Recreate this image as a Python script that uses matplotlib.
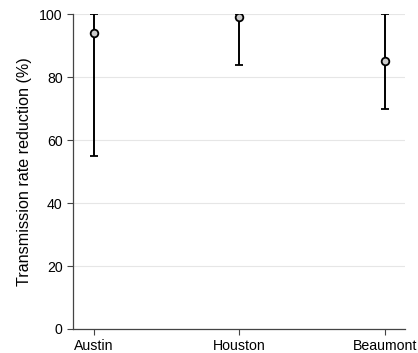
import matplotlib.pyplot as plt

plt.rcParams['font.family'] = ['Liberation Sans', 'DejaVu Sans']

cities = ['Austin', 'Houston', 'Beaumont']
reduction = [94, 99, 85]
lower = [55, 84, 70]
upper = [100, 100, 100]

x = list(range(len(cities)))
yerr = [[r - lo for r, lo in zip(reduction, lower)],
        [up - r for r, up in zip(reduction, upper)]]

fig = plt.figure(figsize=(4.18, 3.53), dpi=100)
ax = fig.add_axes([0.175, 0.068, 0.794, 0.892])

ax.errorbar(x, reduction, yerr=yerr, fmt='o', color='black', ecolor='black',
            elinewidth=1.4, capsize=3, capthick=1.4,
            markerfacecolor='#cccccc', markeredgecolor='black',
            markersize=5.5, markeredgewidth=1.3, zorder=3)

ax.set_xticks(x)
ax.set_xticklabels(cities, fontsize=10.2)
ax.set_xlim(-0.145, 2.14)
ax.set_ylim(0, 100)
ax.set_yticks([0, 20, 40, 60, 80, 100])
ax.tick_params(axis='y', labelsize=10.2, length=4, color='#444444')
ax.tick_params(axis='x', length=4, color='#444444')
ax.set_ylabel('Transmission rate reduction (%)', fontsize=11.6, labelpad=5)

ax.yaxis.grid(True, color='#e6e6e6', linewidth=0.8)
ax.set_axisbelow(True)
for side in ['top', 'right']:
    ax.spines[side].set_visible(False)
for side in ['left', 'bottom']:
    ax.spines[side].set_color('#444444')
    ax.spines[side].set_linewidth(0.9)

fig.savefig('out.png', dpi=100)
